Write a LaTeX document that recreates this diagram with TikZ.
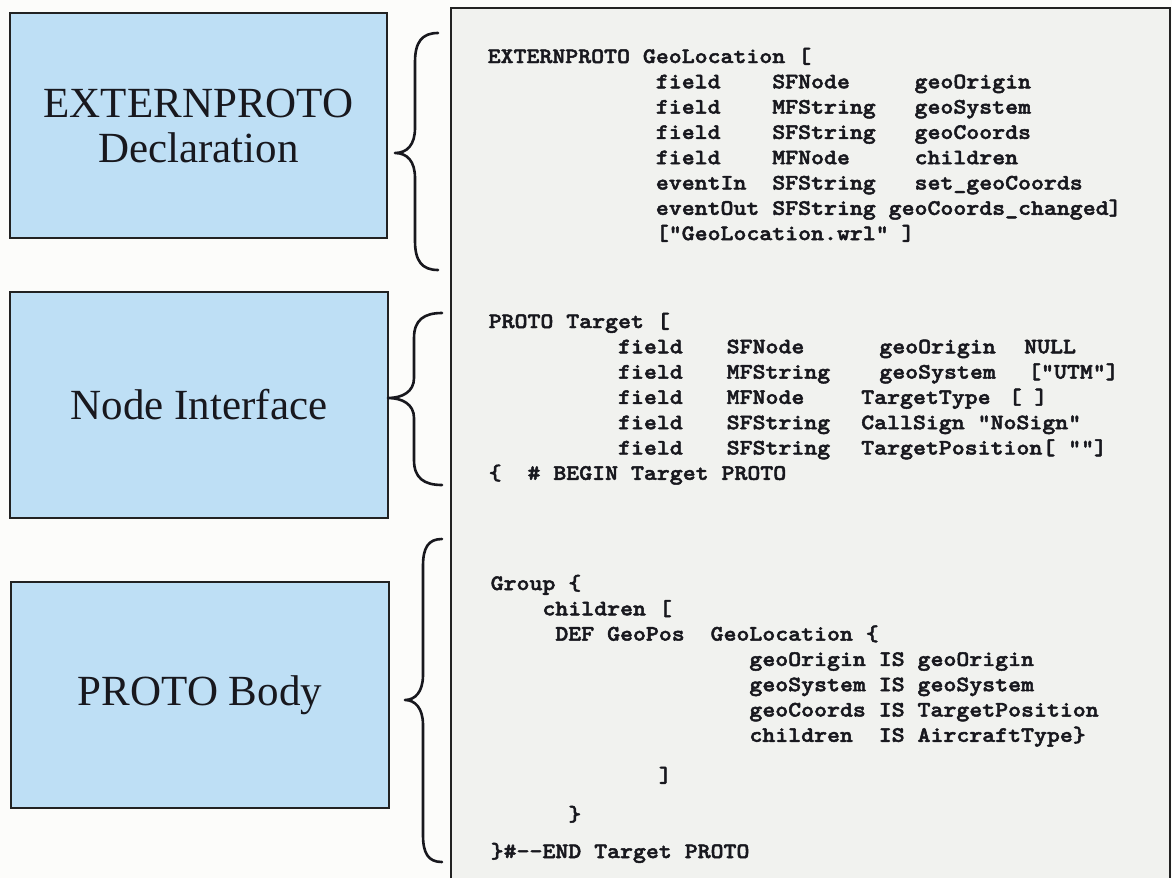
\documentclass[tikz,border=0pt]{standalone}
\usepackage{fontspec}
\setmainfont{Liberation Serif}
% heavy typewriter face for the VRML listing, widened to a Courier-like cell
\setmonofont{lmmonolt10-bold}[Extension=.otf, FakeStretch=1.12, FakeBold=2.2]
\newlength\cw
% place #2 at character column #1 of the current line
\newcommand\at[2]{\rlap{\settowidth\cw{M}\hspace*{#1\cw}#2}}
\definecolor{pagebg}{HTML}{FCFCFA}
\definecolor{panel}{HTML}{F1F2EF}
\definecolor{boxblue}{HTML}{BEDFF5}
\definecolor{edge}{HTML}{222222}
\definecolor{ink}{HTML}{18181E}
\begin{document}
\begin{tikzpicture}[x=1pt, y=-1pt,
  labelbox/.style={draw=edge, line width=1.4pt, fill=boxblue, inner sep=0pt,
    text=ink, align=center, font=\fontsize{43}{45}\selectfont},
  codeline/.style={anchor=base west, inner sep=0pt, text=ink,
    font=\ttfamily\fontsize{22}{25}\selectfont},
  curly/.style={draw=ink, line width=2.6pt, line cap=round, line join=round}]

\useasboundingbox (0,0) rectangle (1172,878);
\fill[pagebg] (0,0) rectangle (1172,878);

% listing panel, open at the bottom
\fill[panel] (451,8) rectangle (1170,878);
\draw[edge, line width=1.4pt] (451,878) -- (451,8) -- (1170,8) -- (1170,878);

% section labels
\node[labelbox, minimum width=377pt, minimum height=225pt] (ext) at (198.5,125.5) {EXTERNPROTO\\Declaration};
\node[labelbox, minimum width=378pt, minimum height=226pt] (iface) at (199,405) {Node Interface};
\node[labelbox, minimum width=378pt, minimum height=226pt] (body) at (200,695) {PROTO Body};

% braces grouping the listing
\draw[curly] (438,33) .. controls (422,33) and (415,42) .. (415,62) -- (415,128)
  .. controls (415,145) and (407,153) .. (395,153)
  .. controls (407,153) and (415,161) .. (415,178) -- (415,241)
  .. controls (415,261) and (422,270) .. (438,270);
\draw[curly] (442,313) .. controls (424,313) and (414,320) .. (414,338) -- (414,378)
  .. controls (414,392) and (402,398) .. (388,398)
  .. controls (402,398) and (414,404) .. (414,418) -- (414,460)
  .. controls (414,478) and (424,485) .. (442,485);
\draw[curly] (442,539) .. controls (428,539) and (423,548) .. (423,566) -- (423,675)
  .. controls (423,692) and (415,700) .. (405,700)
  .. controls (415,700) and (423,708) .. (423,725) -- (423,835)
  .. controls (423,853) and (428,862) .. (442,862);

% EXTERNPROTO declaration
\node[codeline] (e0) at (487,63.0)  {\at{0}{EXTERNPROTO}\at{12}{GeoLocation}\at{24}{[}};
\node[codeline] (e1) at (487,88.3)  {\at{13}{field}\at{22}{SFNode}\at{33}{geoOrigin}};
\node[codeline] (e2) at (487,113.6) {\at{13}{field}\at{22}{MFString}\at{33}{geoSystem}};
\node[codeline] (e3) at (487,138.9) {\at{13}{field}\at{22}{SFString}\at{33}{geoCoords}};
\node[codeline] (e4) at (487,164.2) {\at{13}{field}\at{22}{MFNode}\at{33}{children}};
\node[codeline] (e5) at (487,189.5) {\at{13}{eventIn}\at{22}{SFString}\at{33}{set\_geoCoords}};
\node[codeline] (e6) at (487,214.8) {\at{13}{eventOut}\at{22}{SFString}\at{31}{geoCoords\_changed]}};
\node[codeline] (e7) at (487,240.1) {\at{13}{["GeoLocation.wrl"}\at{32}{]}};

% PROTO interface
\node[codeline] (p0) at (488,328.0) {\at{0}{PROTO}\at{6}{Target}\at{13}{[}};
\node[codeline] (p1) at (488,353.3) {\at{10}{field}\at{18.4}{SFNode}\at{30.2}{geoOrigin}\at{41.4}{NULL}};
\node[codeline] (p2) at (488,378.6) {\at{10}{field}\at{18.4}{MFString}\at{30.2}{geoSystem}\at{41.7}{["UTM"]}};
\node[codeline] (p3) at (488,403.9) {\at{10}{field}\at{18.4}{MFNode}\at{28.8}{TargetType}\at{40.2}{[}\at{42.2}{]}};
\node[codeline] (p4) at (488,429.2) {\at{10}{field}\at{18.4}{SFString}\at{28.8}{CallSign}\at{37.8}{"NoSign"}};
\node[codeline] (p5) at (488,454.5) {\at{10}{field}\at{18.4}{SFString}\at{28.8}{TargetPosition[}\at{44.8}{""]}};
\node[codeline] (p6) at (488,479.8) {\at{0}{\{}\at{3}{\#}\at{5}{BEGIN}\at{11}{Target}\at{18}{PROTO}};

% PROTO body
\node[codeline] (g0) at (490,590.0) {\at{0}{Group}\at{6}{\{}};
\node[codeline] (g1) at (490,615.3) {\at{4}{children}\at{13}{[}};
\node[codeline] (g2) at (490,640.6) {\at{5}{DEF}\at{9}{GeoPos}\at{17}{GeoLocation}\at{29}{\{}};
\node[codeline] (g3) at (490,665.9) {\at{20}{geoOrigin}\at{30}{IS}\at{33}{geoOrigin}};
\node[codeline] (g4) at (490,691.2) {\at{20}{geoSystem}\at{30}{IS}\at{33}{geoSystem}};
\node[codeline] (g5) at (490,716.5) {\at{20}{geoCoords}\at{30}{IS}\at{33}{TargetPosition}};
\node[codeline] (g6) at (490,741.8) {\at{20}{children}\at{30}{IS}\at{33}{AircraftType\}}};
\node[codeline] (g7) at (490,782.0) {\at{13}{]}};
\node[codeline] (g8) at (490,821.0) {\at{6}{\}}};
\node[codeline] (g9) at (490,858.0) {\at{0}{\}\#-\kern0pt-END}\at{8}{Target}\at{15}{PROTO}};
\end{tikzpicture}
\end{document}
